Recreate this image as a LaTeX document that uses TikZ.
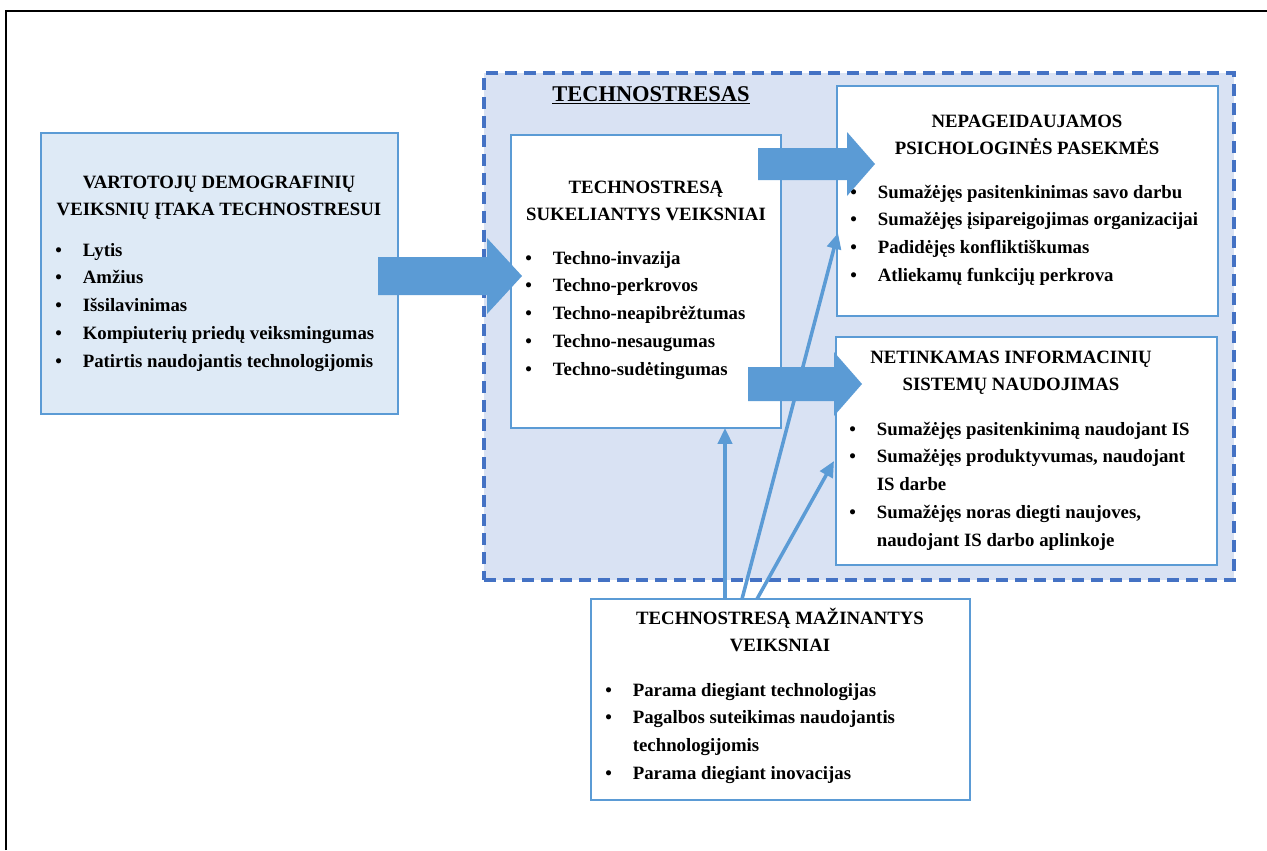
\documentclass[tikz,border=0pt]{standalone}
\usepackage{fontspec}
\setmainfont{Liberation Serif}
\usetikzlibrary{arrows.meta}

\definecolor{boxblue}{HTML}{5B9BD5}
\definecolor{dashblue}{HTML}{4472C4}
\definecolor{areafill}{HTML}{D9E2F3}
\definecolor{demofill}{HTML}{DEEAF6}

% title lines and bullet lists of the boxes
\newcommand{\boxtitle}[1]{\begin{tabular}[t]{@{}c@{}}#1\end{tabular}}
\newcommand{\boxitems}[1]{\begin{tabular}[t]{@{}p{0.55cm}@{}l@{}}#1\end{tabular}}
% block arrow: start, head start, tip, y, half shaft, half head
\newcommand{\bigarrow}[6]{\fill[boxblue] (#1,#4-#5) -- (#2,#4-#5) -- (#2,#4-#6) -- (#3,#4)
	-- (#2,#4+#6) -- (#2,#4+#5) -- (#1,#4+#5) -- cycle;}

\begin{document}
\begin{tikzpicture}[x=0.02cm, y=-0.02cm,
		txt/.style={font=\fontsize{10.7}{15.9}\selectfont\bfseries, inner sep=0pt},
		panel/.style={draw=boxblue, line width=1.6pt, fill=white, inner sep=0pt, outer sep=0pt},
		link/.style={boxblue, line width=2pt, -{Triangle[length=9pt,width=8pt]}}]
	\useasboundingbox (0,0) rectangle (1267,850);
	\draw[line width=1.1pt] (6,850) -- (6,11) -- (1267,11);

	% technostress area
	\node[draw=dashblue, fill=areafill, line width=2.3pt, dash pattern=on 6.8pt off 4pt,
		minimum width=15cm, minimum height=10.14cm, inner sep=0pt] (stress) at (859,326.5) {};
	\node[txt, font=\fontsize{12.8}{15.9}\selectfont\bfseries, anchor=base] (stresslbl) at (651,101) {\underline{TECHNOSTRESAS}};

	\node[panel, fill=demofill, minimum width=7.14cm, minimum height=5.62cm] (demo) at (219.5,273.5) {};
	\node[panel, minimum width=5.4cm, minimum height=5.86cm] (cause) at (646,281.5) {};
	\node[panel, minimum width=7.62cm, minimum height=4.6cm] (psych) at (1027.5,201) {};
	\node[panel, minimum width=7.62cm, minimum height=4.56cm] (misuse) at (1026.5,451) {};
	\node[panel, minimum width=7.58cm, minimum height=4.02cm] (reduce) at (780.5,699.5) {};

	\node[txt, anchor=base] (demotitle) at (219,188) {\boxtitle{VARTOTOJŲ DEMOGRAFINIŲ\\VEIKSNIŲ ĮTAKA TECHNOSTRESUI}};
	\node[txt, anchor=base west] (demolist) at (55,256) {\boxitems{%
		• & Lytis\\ • & Amžius\\ • & Išsilavinimas\\
		• & Kompiuterių priedų veiksmingumas\\ • & Patirtis naudojantis technologijomis}};

	\node[txt, anchor=base] (causetitle) at (646,193) {\boxtitle{TECHNOSTRESĄ\\SUKELIANTYS VEIKSNIAI}};
	\node[txt, anchor=base west] (causelist) at (525,264) {\boxitems{%
		• & Techno-invazija\\ • & Techno-perkrovos\\ • & Techno-neapibrėžtumas\\
		• & Techno-nesaugumas\\ • & Techno-sudėtingumas}};

	\node[txt, anchor=base] (psychtitle) at (1027,127) {\boxtitle{NEPAGEIDAUJAMOS\\PSICHOLOGINĖS PASEKMĖS}};
	\node[txt, anchor=base west] (psychlist) at (850,198) {\boxitems{%
		• & Sumažėjęs pasitenkinimas savo darbu\\ • & Sumažėjęs įsipareigojimas organizacijai\\
		• & Padidėjęs konfliktiškumas\\ • & Atliekamų funkcijų perkrova}};

	\node[txt, anchor=base] (misusetitle) at (1011,363) {\boxtitle{NETINKAMAS INFORMACINIŲ\\SISTEMŲ NAUDOJIMAS}};
	\node[txt, anchor=base west] (misuselist) at (849,435) {\boxitems{%
		• & Sumažėjęs pasitenkinimą naudojant IS\\
		• & Sumažėjęs produktyvumas, naudojant\\ & IS darbe\\
		• & Sumažėjęs noras diegti naujoves,\\ & naudojant IS darbo aplinkoje}};

	\node[txt, anchor=base] (reducetitle) at (780,624) {\boxtitle{TECHNOSTRESĄ MAŽINANTYS\\VEIKSNIAI}};
	\node[txt, anchor=base west] (reducelist) at (605,696) {\boxitems{%
		• & Parama diegiant technologijas\\
		• & Pagalbos suteikimas naudojantis\\ & technologijomis\\
		• & Parama diegiant inovacijas}};

	% block arrows
	\bigarrow{378}{487}{522}{276}{19}{38}
	\bigarrow{758}{847}{875}{164}{16}{32}
	\bigarrow{748}{834}{862}{384}{17}{32}

	% reducing factors
	\coordinate (up1) at (725,599);
	\coordinate (up2) at (742,599);
	\coordinate (up3) at (757,599);
	\coordinate (hit2) at (838,233);
	\coordinate (hit3) at (834,461);
	\draw[link] (up1) -- (up1 |- cause.south);
	\draw[link] (up2) -- (hit2);
	\draw[link] (up3) -- (hit3);
\end{tikzpicture}
\end{document}
